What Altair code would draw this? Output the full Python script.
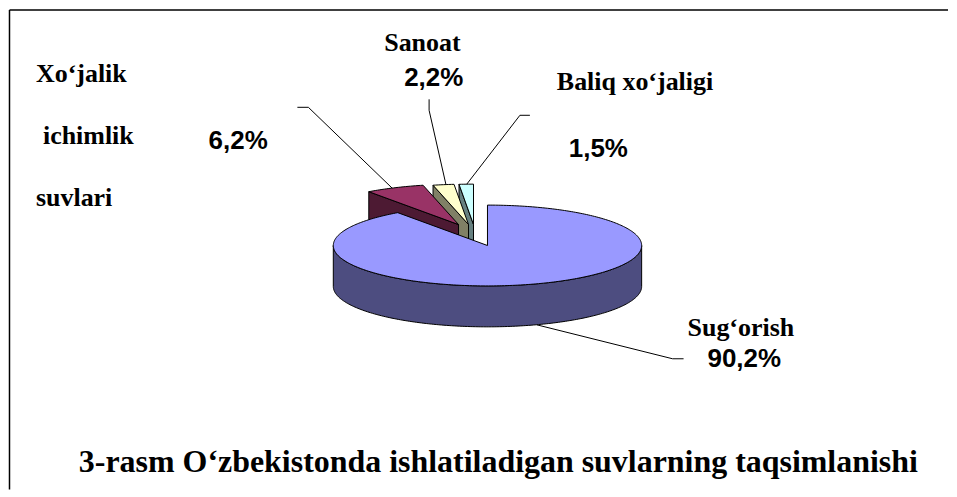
import math
import altair as alt
import pandas as pd

# Values
categories = ["Sug‘orish", "Xo‘jalik ichimlik suvlari", "Sanoat", "Baliq xo‘jaligi"]
shares = [90.2, 6.2, 2.2, 1.5]
value_labels = ["90,2%", "6,2%", "2,2%", "1,5%"]
title_text = "3-rasm O‘zbekistonda ishlatiladigan suvlarning taqsimlanishi"

# Styles
top_colors = ["#9999FF", "#993366", "#FFFFCC", "#CCFFFF"]
side_colors = ["#4D4D80", "#4D1A33", "#808066", "#668080"]

# Layout
X0, Y0, W, H = 8, 8, 941, 481
CX, CY, RX, RY, DEPTH = 487.5, 244.5, 154.5, 40.5, 41
explode = [(0, 0), (-29, -21), (-19, -21), (-14, -21)]

x_enc = alt.X("x:Q", axis=None, scale=alt.Scale(domain=[X0, X0 + W], nice=False, zero=False))
y_enc = alt.Y("y:Q", axis=None, scale=alt.Scale(domain=[Y0 + H, Y0], nice=False, zero=False))


def poly(points, fill=None, stroke="black", sw=1):
    df = pd.DataFrame([{"x": p[0], "y": p[1], "i": i} for i, p in enumerate(points)])
    kw = dict(stroke=stroke, strokeWidth=sw, clip=False, interpolate="linear")
    if fill:
        kw["fill"] = fill
    return alt.Chart(df).mark_line(**kw).encode(x=x_enc, y=y_enc, order="i:Q")


def rim(theta_a, theta_b, dx, dy, depth=0):
    n = max(2, int(abs(theta_b - theta_a)) + 1)
    out = []
    for k in range(n + 1):
        t = math.radians(theta_a + (theta_b - theta_a) * k / n)
        out.append((CX + dx + RX * math.sin(t), CY + dy + depth - RY * math.cos(t)))
    return out


total = sum(shares)
spans = []
start = 0.0
for s in shares:
    spans.append((start, start + s / total * 360))
    start += s / total * 360

layers = []

# Frame: only the top and left edges are visible in the picture
frame = alt.Chart(pd.DataFrame({"k": [0]}))
layers.append(frame.mark_rule(color="black", strokeWidth=1.5).encode(
    x=alt.value(0.5), x2=alt.value(W), y=alt.value(0.5)))
layers.append(frame.mark_rule(color="black", strokeWidth=1.5).encode(
    y=alt.value(0.5), y2=alt.value(H), x=alt.value(0.5)))

# Leader lines
leaders = [
    [(537, 324), (673, 358), (684, 358)],
    [(393, 188), (308, 106), (297, 106)],
    [(446, 184), (429, 109), (429, 98)],
    [(466, 184), (520, 114), (530, 114)],
]
for pts in leaders:
    layers.append(poly(pts))

# Exploded slices, back to front
for i in [3, 2, 1]:
    a, b = spans[i]
    dx, dy = explode[i]
    apex = (CX + dx, CY + dy)
    arc = rim(a, b, dx, dy)
    left = arc[0]
    wall = [left, apex, (apex[0], apex[1] + DEPTH), (left[0], left[1] + DEPTH), left]
    layers.append(poly(wall, side_colors[i]))
    layers.append(poly([apex] + arc + [apex], top_colors[i]))

# Main slice
a, b = spans[0]
upper = rim(90, 270, 0, 0)
lower = rim(270, 90, 0, 0, DEPTH)
layers.append(poly(upper + lower + [upper[0]], side_colors[0]))
arc = rim(a, b, 0, 0)
apex = (CX, CY)
layers.append(poly([apex] + arc + [apex], top_colors[0]))

# Texts
SERIF = "Liberation Serif"
SANS = "Liberation Sans"
texts = [
    ("Xo‘jalik", 35, 73, SERIF, 26, "left"),
    ("ichimlik", 42, 135, SERIF, 26, "left"),
    ("suvlari", 35, 197, SERIF, 26, "left"),
    (value_labels[1], 208, 140, SANS, 26, "left"),
    (categories[2], 384, 42, SERIF, 26, "left"),
    (value_labels[2], 404, 77, SANS, 26, "left"),
    (categories[3], 557, 81, SERIF, 26, "left"),
    (value_labels[3], 569, 148, SANS, 26, "left"),
    (categories[0], 688, 327, SERIF, 26, "left"),
    (value_labels[0], 708, 358, SANS, 26, "left"),
    (title_text, 78, 461, SERIF, 32, "left"),
]
for t, x, y, font, size, align in texts:
    df = pd.DataFrame([{"x": x, "y": y, "t": t}])
    layers.append(
        alt.Chart(df)
        .mark_text(font=font, fontSize=size, fontWeight="bold", align=align, baseline="middle", color="black")
        .encode(x=x_enc, y=y_enc, text="t:N")
    )

chart = (
    alt.layer(*layers)
    .properties(width=W, height=H, padding=0, background="white")
    .configure_view(strokeWidth=0)
)
chart.save("out.html", embed_options={"renderer": "svg", "actions": False})
